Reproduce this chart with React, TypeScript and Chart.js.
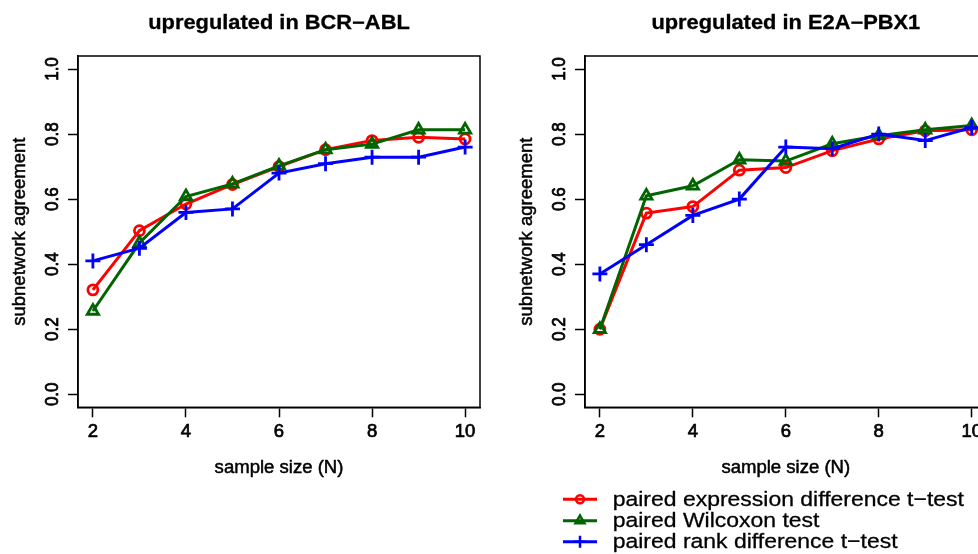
import React, { useEffect, useRef } from "react";
import { Chart, registerables } from "chart.js";
import { drawPoint } from "chart.js/helpers";

Chart.register(...registerables);

// ---------- data ----------
const sampleSizes = [2, 3, 4, 5, 6, 7, 8, 9, 10];
const xTicks = [2, 4, 6, 8, 10];
const yTicks = [0, 0.2, 0.4, 0.6, 0.8, 1.0];
const yTickLabels = ["0.0", "0.2", "0.4", "0.6", "0.8", "1.0"];

const seriesNames = [
  "paired expression difference t\u2212test",
  "paired Wilcoxon test",
  "paired rank difference t\u2212test",
];
const seriesColors = ["#ff0000", "#006400", "#0000ff"];
const seriesMarkers = ["circle", "triangle", "cross"];
const markerRadius = [5, 6.5, 7.5];

const bcrTitle = "upregulated in BCR\u2212ABL";
const bcrTTest = [0.321, 0.503, 0.585, 0.645, 0.7, 0.752, 0.78, 0.79, 0.785];
const bcrWilcoxon = [0.256, 0.465, 0.608, 0.647, 0.702, 0.752, 0.769, 0.813, 0.813];
const bcrRank = [0.41, 0.449, 0.559, 0.57, 0.68, 0.709, 0.729, 0.729, 0.76];

const e2aTitle = "upregulated in E2A\u2212PBX1";
const e2aTTest = [0.2, 0.557, 0.577, 0.689, 0.697, 0.749, 0.785, 0.81, 0.813];
const e2aWilcoxon = [0.2, 0.61, 0.641, 0.721, 0.717, 0.77, 0.795, 0.813, 0.826];
const e2aRank = [0.37, 0.46, 0.55, 0.6, 0.76, 0.755, 0.8, 0.78, 0.82];

const xLabel = "sample size (N)";
const yLabel = "subnetwork agreement";

const FONT = "'Liberation Sans', Arial, Helvetica, sans-serif";

function drawText(
  ctx: CanvasRenderingContext2D,
  s: string,
  x: number,
  y: number,
  font: string,
  sx: number,
  rotate: boolean,
  align: CanvasTextAlign,
  baseline: CanvasTextBaseline,
  stroke: number
) {
  ctx.save();
  ctx.translate(x, y);
  ctx.scale(sx, 1);
  if (rotate) ctx.rotate(-Math.PI / 2);
  ctx.font = font;
  ctx.fillStyle = "#000";
  ctx.textAlign = align;
  ctx.textBaseline = baseline;
  ctx.fillText(s, 0, 0);
  if (stroke > 0) {
    ctx.strokeStyle = "#000";
    ctx.lineWidth = stroke;
    ctx.lineJoin = "round";
    ctx.strokeText(s, 0, 0);
  }
  ctx.restore();
}

type PanelProps = {
  title: string;
  series: number[][];
  left: number;
  width: number;
  yAxisWidth: number;
  padRight: number;
  showLegend: boolean;
};

function Panel({ title, series, left, width, yAxisWidth, padRight, showLegend }: PanelProps) {
  const ref = useRef<HTMLCanvasElement | null>(null);

  useEffect(() => {
    const canvas = ref.current;
    if (!canvas) return;

    const decor = {
      id: "decor",
      afterDraw(chart: any) {
        const ctx: CanvasRenderingContext2D = chart.ctx;
        const a = chart.chartArea;
        const ys = chart.scales.y;
        ctx.save();
        ctx.strokeStyle = "#000";
        ctx.lineWidth = 1.5;
        ctx.strokeRect(a.left, a.top, a.right - a.left, a.bottom - a.top);
        ctx.restore();

        const cx = (a.left + a.right) / 2;
        drawText(ctx, title, cx, 29.3, `bold 19.5px ${FONT}`, 1.12, false, "center", "alphabetic", 0.3);
        drawText(ctx, xLabel, cx, 473, `18px ${FONT}`, 1.03, false, "center", "alphabetic", 0.5);
        drawText(ctx, yLabel, a.left - 53, (a.top + a.bottom) / 2, `18.5px ${FONT}`, 1.0, true, "center", "alphabetic", 0.5);
        yTicks.forEach((v, i) => {
          drawText(ctx, yTickLabels[i], a.left - 20, ys.getPixelForValue(v), `17px ${FONT}`, 1.1, true, "center", "alphabetic", 0.7);
        });

        if (showLegend) {
          const rowsY = [499.3, 520.7, 541.7];
          const lx0 = 563 - left;
          const lx1 = 597 - left;
          const tx = 612.7 - left;
          seriesNames.forEach((name, i) => {
            const y = rowsY[i];
            ctx.save();
            ctx.strokeStyle = seriesColors[i];
            ctx.lineWidth = 3;
            ctx.beginPath();
            ctx.moveTo(lx0, y);
            ctx.lineTo(lx1, y);
            ctx.stroke();
            ctx.fillStyle = "rgba(0,0,0,0)";
            ctx.lineWidth = 2.5;
            drawPoint(ctx, { pointStyle: seriesMarkers[i] as any, radius: markerRadius[i] * 0.8, borderWidth: 2.5, rotation: 0 } as any, (lx0 + lx1) / 2, y);
            ctx.restore();
            drawText(ctx, name, tx, y + 6.5, `20.5px ${FONT}`, 1.12, false, "left", "alphabetic", 0.3);
          });
        }
      },
    };

    const tickGrid = {
      drawOnChartArea: false,
      drawTicks: true,
      tickLength: 10,
      tickWidth: 1.5,
      tickColor: "#000",
    };

    const chart = new Chart(canvas, {
      type: "line",
      data: {
        datasets: series.map((vals, i) => ({
          label: seriesNames[i],
          data: sampleSizes.map((x, j) => ({ x, y: vals[j] })),
          borderColor: seriesColors[i],
          backgroundColor: "rgba(0,0,0,0)",
          borderWidth: 3,
          tension: 0,
          pointStyle: seriesMarkers[i] as any,
          pointRadius: markerRadius[i],
          pointBorderWidth: 2.8,
          pointBorderColor: seriesColors[i],
          pointBackgroundColor: "rgba(0,0,0,0)",
          order: 2 - i,
          clip: false as any,
        })),
      },
      options: {
        responsive: false,
        animation: false,
        devicePixelRatio: 1,
        layout: { padding: { left: 0, right: padRight, top: 56, bottom: 554 - 407.3 - 50 } },
        plugins: {
          legend: { display: false },
          tooltip: { enabled: false },
          title: { display: false },
        },
        scales: {
          x: {
            type: "linear",
            min: 1.68,
            max: 10.32,
            afterBuildTicks: (s: any) => {
              s.ticks = xTicks.map((v) => ({ value: v }));
            },
            afterFit: (s: any) => {
              s.height = 50;
            },
            grid: tickGrid as any,
            border: { display: true, color: "#000", width: 1.5 },
            ticks: {
              color: "#000",
              font: { family: FONT, size: 18.5 },
              padding: 4,
              maxRotation: 0,
              minRotation: 0,
              autoSkip: false,
              textStrokeColor: "#000",
              textStrokeWidth: 0.7,
              callback: (v: any) => String(v),
            } as any,
          },
          y: {
            type: "linear",
            min: -0.04,
            max: 1.04,
            afterBuildTicks: (s: any) => {
              s.ticks = yTicks.map((v) => ({ value: v }));
            },
            afterFit: (s: any) => {
              s.width = yAxisWidth;
            },
            grid: tickGrid as any,
            border: { display: true, color: "#000", width: 1.5 },
            ticks: { display: false },
          },
        },
      },
      plugins: [decor],
    });

    return () => chart.destroy();
  }, [title, series, left, width, yAxisWidth, padRight, showLegend]);

  return (
    <canvas
      ref={ref}
      width={width}
      height={554}
      style={{ position: "absolute", left, top: 0, width, height: 554 }}
    />
  );
}

const bcrSeries = [bcrTTest, bcrWilcoxon, bcrRank];
const e2aSeries = [e2aTTest, e2aWilcoxon, e2aRank];

export default function App() {
  return (
    <div
      style={{
        position: "fixed",
        left: 0,
        top: 0,
        width: 978,
        height: 554,
        overflow: "hidden",
        background: "#fff",
      }}
    >
      <Panel title={bcrTitle} series={bcrSeries} left={0} width={500} yAxisWidth={78} padRight={20} showLegend={false} />
      <Panel title={e2aTitle} series={e2aSeries} left={500} width={500} yAxisWidth={85} padRight={13.4} showLegend={true} />
    </div>
  );
}
